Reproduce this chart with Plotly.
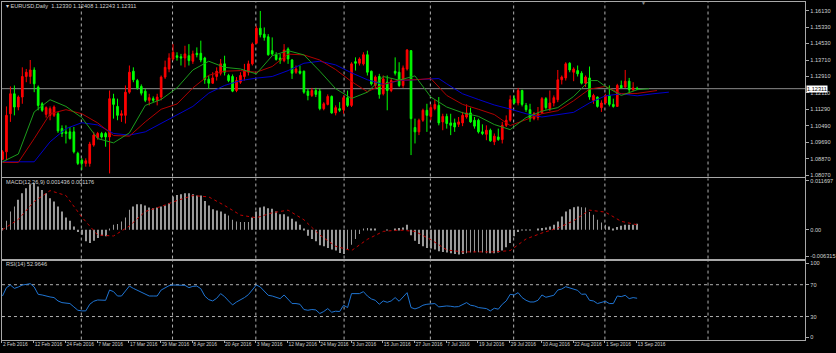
import plotly.graph_objects as go

# ---------------- DATA ----------------
symbol_header = "EURUSD,Daily  1.12330 1.12408 1.12243 1.12311"
last_price = 1.12311

open_ = [1.0884,1.0921,1.1108,1.1206,1.1141,1.1190,1.1291,1.1291,1.1323,1.1239,
         1.1157,1.1105,1.1100,1.1100,1.1108,1.1035,1.1019,1.1019,1.1019,1.0913,
         1.0880,1.0864,1.0864,1.0954,1.0991,1.1011,1.1011,1.0994,1.1182,1.1144,
         1.1100,1.1100,1.1214,1.1317,1.1271,1.1242,1.1219,1.1174,1.1182,1.1174,
         1.1190,1.1288,1.1328,1.1377,1.1393,1.1388,1.1382,1.1393,1.1366,1.1405,
         1.1405,1.1382,1.1278,1.1258,1.1291,1.1307,1.1353,1.1296,1.1291,1.1222,
         1.1263,1.1291,1.1312,1.1353,1.1454,1.1528,1.1499,1.1486,1.1418,1.1398,
         1.1382,1.1369,1.1426,1.1372,1.1312,1.1317,1.1317,1.1219,1.1198,1.1222,
         1.1219,1.1133,1.1154,1.1193,1.1112,1.1133,1.1128,1.1187,1.1149,1.1364,
         1.1356,1.1353,1.1398,1.1317,1.1247,1.1291,1.1206,1.1263,1.1222,1.1317,
         1.1312,1.1247,1.1328,1.1418,1.1040,1.1019,1.1076,1.1125,1.1095,1.1133,
         1.1149,1.1068,1.1095,1.1063,1.1063,1.1056,1.1063,1.1092,1.1112,1.1076,
         1.1076,1.1019,1.1007,1.1027,1.0970,1.0994,1.0981,1.1051,1.1076,1.1182,
         1.1161,1.1222,1.1149,1.1128,1.1084,1.1089,1.1112,1.1182,1.1133,1.1161,
         1.1177,1.1275,1.1284,1.1356,1.1312,1.1320,1.1307,1.1258,1.1284,1.1174,
         1.1190,1.1138,1.1161,1.1198,1.1154,1.1144,1.1247,1.1239,1.1268,1.1226,
         1.12330]
high = [1.0929,1.1144,1.1242,1.1247,1.1198,1.1336,1.1328,1.1372,1.1336,1.1247,
        1.1165,1.1144,1.1144,1.1149,1.1117,1.1051,1.1051,1.1043,1.1043,1.0921,
        1.0889,1.0889,1.0970,1.1019,1.1019,1.1019,1.1019,1.1222,1.1206,1.1182,
        1.1125,1.1247,1.1345,1.1336,1.1279,1.1252,1.1231,1.1206,1.1193,1.1206,
        1.1296,1.1369,1.1405,1.1450,1.1410,1.1402,1.1442,1.1450,1.1418,1.1434,
        1.1467,1.1388,1.1296,1.1312,1.1336,1.1377,1.1393,1.1304,1.1301,1.1288,
        1.1312,1.1353,1.1369,1.1458,1.1540,1.1613,1.1532,1.1499,1.1483,1.1410,
        1.1402,1.1450,1.1434,1.1377,1.1345,1.1345,1.1320,1.1231,1.1235,1.1235,
        1.1231,1.1165,1.1203,1.1198,1.1149,1.1165,1.1198,1.1222,1.1361,1.1385,
        1.1385,1.1410,1.1418,1.1320,1.1296,1.1304,1.1296,1.1296,1.1284,1.1385,
        1.1361,1.1345,1.1426,1.1421,1.1084,1.1084,1.1133,1.1157,1.1154,1.1177,
        1.1190,1.1108,1.1108,1.1108,1.1084,1.1092,1.1117,1.1154,1.1138,1.1092,
        1.1084,1.1056,1.1051,1.1035,1.1011,1.1035,1.1068,1.1100,1.1198,1.1198,
        1.1235,1.1226,1.1161,1.1157,1.1117,1.1141,1.1190,1.1190,1.1222,1.1198,
        1.1323,1.1296,1.1361,1.1361,1.1336,1.1345,1.1317,1.1296,1.1340,1.1206,
        1.1193,1.1174,1.1206,1.1247,1.1182,1.1255,1.1271,1.1323,1.1284,1.1263,
        1.12408]
low = [1.0880,1.0880,1.1068,1.1100,1.1125,1.1157,1.1263,1.1255,1.1214,1.1125,
       1.1117,1.1089,1.1076,1.1092,1.1014,1.0994,1.0962,1.0981,1.0913,1.0856,
       1.0832,1.0848,1.0848,1.0946,1.0981,1.0986,1.0946,1.0815,1.1084,1.1076,
       1.1068,1.1060,1.1206,1.1263,1.1226,1.1198,1.1165,1.1149,1.1165,1.1149,
       1.1174,1.1279,1.1312,1.1369,1.1369,1.1345,1.1336,1.1345,1.1353,1.1385,
       1.1361,1.1255,1.1231,1.1255,1.1271,1.1296,1.1296,1.1263,1.1214,1.1214,
       1.1255,1.1271,1.1296,1.1345,1.1450,1.1483,1.1467,1.1393,1.1393,1.1369,
       1.1353,1.1361,1.1353,1.1279,1.1304,1.1301,1.1206,1.1174,1.1190,1.1190,
       1.1125,1.1125,1.1149,1.1108,1.1100,1.1117,1.1108,1.1141,1.1141,1.1320,
       1.1345,1.1345,1.1296,1.1247,1.1231,1.1182,1.1198,1.1125,1.1214,1.1296,
       1.1239,1.1235,1.1320,1.0905,1.0962,1.1003,1.1068,1.1019,1.1076,1.1125,
       1.1051,1.1027,1.1035,1.1003,1.1019,1.1043,1.1047,1.1084,1.1063,1.1035,
       1.1011,1.1003,1.0978,1.0970,1.0954,1.0975,1.0962,1.1043,1.1068,1.1154,
       1.1149,1.1144,1.1117,1.1068,1.1076,1.1076,1.1108,1.1128,1.1121,1.1144,
       1.1165,1.1252,1.1271,1.1312,1.1268,1.1291,1.1252,1.1239,1.1177,1.1157,
       1.1138,1.1117,1.1154,1.1144,1.1138,1.1141,1.1231,1.1235,1.1203,1.1219,
       1.12243]
close = [1.0921,1.1100,1.1206,1.1141,1.1190,1.1291,1.1312,1.1323,1.1255,1.1149,
         1.1125,1.1138,1.1133,1.1141,1.1024,1.1011,1.1011,1.0986,1.0921,1.0864,
         1.0864,1.0877,1.0959,1.1003,1.1011,1.0994,1.0994,1.1182,1.1154,1.1100,
         1.1108,1.1214,1.1312,1.1275,1.1235,1.1209,1.1174,1.1187,1.1174,1.1190,
         1.1288,1.1336,1.1382,1.1410,1.1385,1.1382,1.1402,1.1369,1.1402,1.1398,
         1.1372,1.1275,1.1258,1.1284,1.1317,1.1353,1.1312,1.1271,1.1219,1.1271,
         1.1296,1.1320,1.1353,1.1450,1.1528,1.1496,1.1483,1.1398,1.1402,1.1375,
         1.1369,1.1421,1.1377,1.1307,1.1328,1.1307,1.1214,1.1198,1.1222,1.1203,
         1.1133,1.1157,1.1193,1.1112,1.1138,1.1125,1.1187,1.1149,1.1353,1.1356,
         1.1377,1.1398,1.1312,1.1255,1.1288,1.1203,1.1279,1.1222,1.1271,1.1307,
         1.1247,1.1333,1.1421,1.1084,1.1019,1.1076,1.1125,1.1100,1.1138,1.1154,
         1.1063,1.1095,1.1060,1.1051,1.1043,1.1068,1.1100,1.1112,1.1068,1.1047,
         1.1019,1.1011,1.1027,1.0975,1.0998,1.0981,1.1051,1.1076,1.1177,1.1161,
         1.1222,1.1154,1.1128,1.1084,1.1108,1.1108,1.1182,1.1138,1.1161,1.1187,
         1.1275,1.1288,1.1353,1.1323,1.1328,1.1304,1.1258,1.1288,1.1190,1.1198,
         1.1144,1.1161,1.1198,1.1154,1.1144,1.1247,1.1235,1.1268,1.1226,1.1235,
         1.12311]

# Alligator-style moving averages (bar index, value), sampled along the lines
lips_idx = [0,4,8,12,16,20,24,28,32,36,40,44,48,52,56,60,64,68,72,76,80,84,88,92,96,
            100,104,108,112,116,120,124,128,132,136,140,144,148,150,152,156,160,163]
lips_val = [1.0872,1.0910,1.1117,1.1177,1.1144,1.1089,1.0986,1.0965,1.1014,1.1149,
            1.1178,1.1235,1.1323,1.1366,1.1336,1.1328,1.1304,1.1393,1.1418,1.1397,
            1.1317,1.1231,1.1183,1.1214,1.1291,1.1273,1.1294,1.1190,1.1141,1.1113,
            1.1095,1.1055,1.1030,1.1089,1.1121,1.1138,1.1193,1.1271,1.1271,1.1242,
            1.1198,1.1226,1.1231]
teeth_idx = [0,4,8,12,16,20,24,28,32,36,40,44,48,52,56,60,64,68,72,76,80,84,88,92,96,
             100,104,108,112,116,120,124,128,132,136,140,144,148,152,156,160,165]
teeth_val = [1.0869,1.0869,1.0986,1.1108,1.1128,1.1108,1.1063,1.1001,1.0998,1.1068,
             1.1130,1.1156,1.1235,1.1297,1.1317,1.1320,1.1312,1.1340,1.1401,1.1397,
             1.1372,1.1325,1.1266,1.1216,1.1252,1.1273,1.1275,1.1281,1.1198,1.1154,
             1.1130,1.1104,1.1050,1.1079,1.1108,1.1123,1.1172,1.1229,1.1242,1.1206,
             1.1208,1.1222]
jaw_idx = [0,4,8,12,16,20,24,28,32,36,40,44,48,52,56,60,64,68,72,76,80,84,88,92,96,
           100,104,108,110,112,116,120,124,128,132,136,140,144,148,152,156,160,164,168]
jaw_val = [1.0872,1.0872,1.0872,1.0970,1.1035,1.1064,1.1053,1.1011,1.1003,1.1019,
           1.1060,1.1105,1.1144,1.1209,1.1247,1.1271,1.1283,1.1291,1.1320,1.1356,
           1.1366,1.1348,1.1309,1.1275,1.1252,1.1271,1.1275,1.1276,1.1281,1.1255,
           1.1206,1.1178,1.1151,1.1131,1.1108,1.1092,1.1104,1.1115,1.1161,1.1196,
           1.1206,1.1196,1.1206,1.1214]

macd_main = [0.00040,0.00213,0.00435,0.00553,0.00711,0.00869,0.00988,0.01082,0.01106,0.01027,
             0.00948,0.00869,0.00751,0.00672,0.00553,0.00435,0.00292,0.00213,0.00079,-0.00055,
             -0.00119,-0.00277,-0.00316,-0.00261,-0.00198,-0.00142,-0.00158,0.00008,0.00119,0.00134,
             0.00198,0.00292,0.00474,0.00553,0.00608,0.00608,0.00577,0.00529,0.00514,0.00529,
             0.00553,0.00577,0.00632,0.00790,0.00830,0.00845,0.00869,0.00869,0.00845,0.00814,
             0.00814,0.00687,0.00577,0.00490,0.00458,0.00435,0.00379,0.00340,0.00237,0.00198,
             0.00182,0.00182,0.00182,0.00292,0.00435,0.00529,0.00553,0.00514,0.00498,0.00435,
             0.00371,0.00371,0.00316,0.00261,0.00198,0.00119,0.00024,-0.00142,-0.00221,-0.00277,
             -0.00371,-0.00395,-0.00435,-0.00474,-0.00498,-0.00553,-0.00577,-0.00474,-0.00356,-0.00221,
             -0.00103,0.00024,0.00040,0.00024,0.00016,0.00000,0.00000,-0.00008,0.00000,0.00024,
             0.00040,0.00055,0.00119,-0.00134,-0.00261,-0.00340,-0.00395,-0.00435,-0.00450,-0.00474,
             -0.00514,-0.00529,-0.00545,-0.00561,-0.00577,-0.00593,-0.00577,-0.00561,-0.00545,-0.00537,
             -0.00537,-0.00545,-0.00561,-0.00561,-0.00561,-0.00545,-0.00498,-0.00419,-0.00316,-0.00158,
             -0.00055,-0.00008,-0.00008,-0.00008,0.00000,0.00016,0.00040,0.00055,0.00079,0.00119,
             0.00198,0.00316,0.00435,0.00490,0.00537,0.00553,0.00537,0.00529,0.00419,0.00356,
             0.00237,0.00174,0.00119,0.00079,0.00024,0.00063,0.00095,0.00119,0.00119,0.00119,
             0.001436]
signal_idx = [0,4,8,12,16,20,24,28,32,36,40,44,48,52,56,60,64,68,72,76,80,84,88,92,96,
              100,104,108,112,116,120,124,128,132,136,140,144,148,152,156,160]
signal_val = [0.0,0.00245,0.00672,0.00932,0.00814,0.00300,-0.00126,-0.00150,0.00087,0.00435,
              0.00553,0.00695,0.00814,0.00782,0.00577,0.00348,0.00284,0.00403,0.00466,0.00237,
              -0.00126,-0.00395,-0.00498,-0.00229,-0.00040,-0.00008,-0.00040,-0.00237,-0.00482,-0.00529,
              -0.00529,-0.00529,-0.00498,-0.00221,-0.00079,0.00040,0.00213,0.00466,0.00419,0.00198,
              0.001176]

rsi = [55.8,66.3,69.6,65.4,67.1,69.6,70.4,71.3,67.1,57.9,
       57.1,55.4,54.6,53.8,49.6,47.5,47.1,46.3,42.1,37.9,
       37.1,37.1,45.4,49.2,50.8,50.4,50.4,63.3,61.3,55.8,
       55.8,62.1,68.3,65.4,62.9,60.0,57.5,55.8,55.8,55.8,
       63.3,66.3,68.8,69.6,69.6,69.6,69.2,66.3,67.9,68.3,
       65.0,55.8,51.3,49.6,52.9,58.8,55.0,49.6,44.6,48.3,
       50.8,53.8,57.5,62.9,69.6,67.1,62.1,56.7,55.8,54.2,
       52.5,57.1,51.7,46.3,46.3,45.4,38.8,37.9,38.8,38.3,
       33.8,36.3,40.0,35.4,36.7,36.3,44.2,41.3,58.8,58.8,
       58.8,61.3,55.8,52.1,50.4,45.4,49.6,47.9,49.6,53.8,
       49.2,54.6,60.0,41.3,39.6,41.3,44.2,45.4,46.3,46.3,
       42.1,42.9,43.3,42.9,42.1,42.5,45.0,47.5,44.2,43.3,
       41.3,40.4,40.0,37.1,40.4,39.2,45.4,49.6,57.9,57.1,
       60.0,53.8,50.4,48.3,48.3,50.4,57.1,54.2,55.0,56.7,
       63.3,64.6,67.5,65.8,64.6,62.9,57.9,58.3,50.4,49.6,
       46.3,47.5,49.2,46.3,46.3,55.8,55.0,56.7,52.5,53.8,
       52.9646]

price_ticks = [1.16130,1.15330,1.14530,1.13710,1.12910,1.12110,1.11290,1.10490,1.09690,1.08870,1.08070]
price_tick_text = ["1.16130","1.15330","1.14530","1.13710","1.12910","1.12110","1.11290","1.10490","1.09690","1.08870","1.08070"]
macd_ticks = [0.011697, 0.0, -0.006315]
macd_tick_text = ["0.011697", "0.00", "-0.006315"]
rsi_levels = [70, 30]
rsi_tick_text = ["100", "70", "30", "0"]
date_idx = [0,8,16,24,32,40,48,56,64,72,80,88,96,104,112,120,128,136,144,152,160]
date_text = ["2 Feb 2016","12 Feb 2016","24 Feb 2016","7 Mar 2016","17 Mar 2016","29 Mar 2016",
             "8 Apr 2016","20 Apr 2016","3 May 2016","12 May 2016","24 May 2016","3 Jun 2016",
             "15 Jun 2016","27 Jun 2016","7 Jul 2016","19 Jul 2016","29 Jul 2016","10 Aug 2016",
             "22 Aug 2016","1 Sep 2016","13 Sep 2016"]
macd_label = "MACD(12,26,9) 0.001436 0.001176"
rsi_label = "RSI(14) 52.9646"

# ---------------- LAYOUT HELPERS ----------------
W, H = 836, 353
def fy(py):
    return 1 - py / H

X_DOM = [2 / W, 812 / W]
MAIN_DOM = [fy(176.5), fy(1)]
MACD_DOM = [fy(259), fy(178.5)]
RSI_DOM = [fy(340.5), fy(261)]
X_RANGE = [-0.125, 202.375]
GRID_X = [19.875, 42.875, 63.875, 86.125, 107.875, 128.875, 151.875, 177.875]
FRAME = "#a8a8a8"
TXT = "#d2d2d2"
FONT = "Liberation Sans, Arial, sans-serif"
FS = 5.6

idx = list(range(len(close)))

fig = go.Figure()
fig.add_trace(go.Candlestick(
    x=idx, open=open_, high=high, low=low, close=close,
    increasing=dict(line=dict(color="#ff0000", width=1), fillcolor="#ff0000"),
    decreasing=dict(line=dict(color="#00ff00", width=1), fillcolor="#00ff00"),
    whiskerwidth=0, xaxis="x", yaxis="y", hoverinfo="skip", showlegend=False))
for xs, ys, col in [(jaw_idx, jaw_val, "#0000cc"), (teeth_idx, teeth_val, "#b00000"),
                    (lips_idx, lips_val, "#1c9c1c")]:
    fig.add_trace(go.Scatter(x=xs, y=ys, mode="lines", line=dict(color=col, width=1),
                             xaxis="x", yaxis="y", hoverinfo="skip", showlegend=False))

fig.add_trace(go.Bar(x=idx, y=macd_main, width=0.2, marker=dict(color="#9c9c9c", line=dict(width=0)),
                     xaxis="x2", yaxis="y2", hoverinfo="skip", showlegend=False))
fig.add_trace(go.Scatter(x=signal_idx, y=signal_val, mode="lines",
                         line=dict(color="#c00000", width=1, dash="dot"),
                         xaxis="x2", yaxis="y2", hoverinfo="skip", showlegend=False))
fig.add_trace(go.Scatter(x=idx, y=rsi, mode="lines", line=dict(color="#1f74d2", width=1),
                         xaxis="x3", yaxis="y3", hoverinfo="skip", showlegend=False))

axis_common = dict(showgrid=False, zeroline=False, showline=True, mirror=True,
                   linecolor=FRAME, linewidth=1)
tickfont = dict(family=FONT, size=FS, color=TXT)

fig.update_layout(
    width=W, height=H, margin=dict(l=0, r=0, t=0, b=0),
    paper_bgcolor="#000000", plot_bgcolor="#000000", showlegend=False,
    boxgap=0.4,
    xaxis=dict(domain=X_DOM, range=X_RANGE, anchor="y", showticklabels=False, ticks="",
               rangeslider=dict(visible=False), **axis_common),
    xaxis2=dict(domain=X_DOM, range=X_RANGE, anchor="y2", matches="x", showticklabels=False,
                ticks="", **axis_common),
    xaxis3=dict(domain=X_DOM, range=X_RANGE, anchor="y3", matches="x",
                tickvals=[i - 0.125 for i in date_idx], ticktext=date_text, tickangle=0,
                ticklabelposition="outside right", ticks="outside", ticklen=2,
                tickcolor=FRAME, tickfont=dict(family=FONT, size=4.9, color=TXT), **axis_common),
    yaxis=dict(domain=MAIN_DOM, range=[1.07997, 1.16570], side="right", anchor="x",
               tickvals=price_ticks, ticktext=price_tick_text, ticks="outside", ticklen=3,
               tickcolor=FRAME, tickfont=tickfont, **axis_common),
    yaxis2=dict(domain=MACD_DOM, range=[-0.006873, 0.012206], side="right", anchor="x2",
                tickvals=macd_ticks, ticktext=macd_tick_text, ticks="outside", ticklen=3,
                tickcolor=FRAME, tickfont=tickfont, **axis_common),
    yaxis3=dict(domain=RSI_DOM, range=[1.04, 100.4], side="right", anchor="x3",
                tickvals=[96.7, 70, 30, 4.2], ticktext=rsi_tick_text, ticks="outside", ticklen=3,
                tickcolor=FRAME, tickfont=tickfont, **axis_common),
)

shapes = []
for g in GRID_X:
    for xr, yr in [("x", "y domain"), ("x2", "y2 domain"), ("x3", "y3 domain")]:
        shapes.append(dict(type="line", xref=xr, yref=yr, x0=g, x1=g, y0=0, y1=1,
                           line=dict(color="#b0b0b0", width=1, dash="dot"), layer="below"))
for lv in rsi_levels:
    shapes.append(dict(type="line", xref="x3 domain", yref="y3", x0=0, x1=1, y0=lv, y1=lv,
                       line=dict(color="#b0b0b0", width=1, dash="dot"), layer="below"))
shapes.append(dict(type="line", xref="x domain", yref="y", x0=0, x1=1, y0=last_price, y1=last_price,
                   line=dict(color="#8c8c8c", width=1), layer="below"))
fig.update_layout(shapes=shapes)

ann = [
    dict(xref="paper", yref="paper", x=4 / W, y=fy(5.5), text="\u25be " + symbol_header,
         showarrow=False, xanchor="left", yanchor="middle", font=dict(family=FONT, size=FS, color=TXT)),
    dict(xref="paper", yref="paper", x=4 / W, y=fy(182), text=macd_label,
         showarrow=False, xanchor="left", yanchor="middle", font=dict(family=FONT, size=FS, color=TXT)),
    dict(xref="paper", yref="paper", x=4 / W, y=fy(264.5), text=rsi_label,
         showarrow=False, xanchor="left", yanchor="middle", font=dict(family=FONT, size=FS, color=TXT)),
    dict(xref="paper", yref="y", x=813 / W, y=last_price, text=f"{last_price:.5f}",
         showarrow=False, xanchor="left", yanchor="middle", bgcolor="#ffffff", borderpad=0,
         font=dict(family=FONT, size=FS, color="#000000")),
    dict(xref="paper", yref="paper", x=649 / W, y=fy(2.5), text="\u25bc", showarrow=False,
         xanchor="center", yanchor="middle", font=dict(family=FONT, size=5, color="#8a8a8a")),
]
fig.update_layout(annotations=ann)

fig.write_html("out.html")
